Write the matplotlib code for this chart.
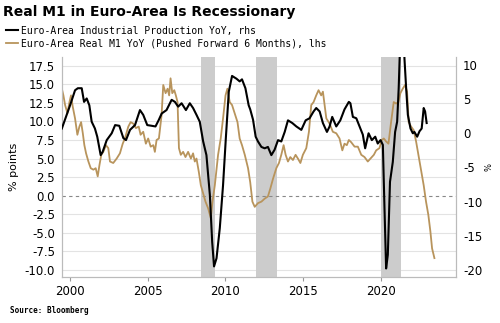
import matplotlib
matplotlib.use("Agg")
import matplotlib.pyplot as plt

# Euro-area industrial production YoY (%), right axis
ip_t = [1999.47, 1999.75, 2000.0, 2000.32, 2000.5, 2000.75, 2000.9, 2001.07, 2001.24, 2001.39,
        2001.6, 2001.75, 2001.97, 2002.1, 2002.36, 2002.68, 2002.9, 2003.17, 2003.43, 2003.6,
        2003.86, 2004.18, 2004.5, 2004.71, 2004.97, 2005.25, 2005.5, 2005.7, 2005.9, 2006.21,
        2006.54, 2006.75, 2006.96, 2007.18, 2007.46, 2007.71, 2007.92, 2008.14, 2008.35, 2008.57,
        2008.78, 2009.0, 2009.15, 2009.27, 2009.43, 2009.64, 2009.85, 2010.03, 2010.22, 2010.43,
        2010.71, 2010.92, 2011.07, 2011.29, 2011.5, 2011.6, 2011.78, 2011.95, 2012.1, 2012.32,
        2012.53, 2012.74, 2012.96, 2013.17, 2013.39, 2013.6, 2013.82, 2014.03, 2014.31, 2014.57,
        2014.89, 2015.17, 2015.42, 2015.68, 2015.85, 2016.07, 2016.28, 2016.54, 2016.71, 2016.88,
        2017.14, 2017.4, 2017.67, 2017.95, 2018.05, 2018.21, 2018.43, 2018.64, 2018.85, 2019.0,
        2019.22, 2019.43, 2019.65, 2019.81, 2019.99, 2020.14, 2020.24, 2020.35, 2020.46, 2020.6,
        2020.78, 2020.93, 2021.06, 2021.16, 2021.25, 2021.35, 2021.45, 2021.53, 2021.64, 2021.75,
        2021.92, 2022.07, 2022.17, 2022.35, 2022.5, 2022.64, 2022.77, 2022.86, 2022.96]
ip_v = [0.7, 2.5, 4.1, 6.3, 6.6, 6.6, 4.6, 5.1, 4.1, 1.7,
        0.7, -0.5, -3.2, -2.7, -1.0, 0.0, 1.2, 1.1, -0.7, -1.0,
        0.5, 1.2, 3.4, 2.7, 1.2, 1.1, 1.0, 1.9, 2.9, 3.4,
        4.9, 4.6, 3.9, 4.4, 3.4, 4.4, 3.7, 2.7, 1.7, -1.2,
        -3.2, -9.0, -15.9, -19.5, -18.3, -13.9, -7.6, -0.7, 6.1, 8.4,
        8.0, 7.6, 7.9, 6.6, 4.1, 3.5, 2.0, -0.5, -1.2, -2.0,
        -2.2, -2.0, -3.2, -2.4, -1.0, -1.2, 0.2, 1.9, 1.5, 1.0,
        0.5, 1.9, 2.2, 3.2, 3.7, 3.2, 1.5, 0.2, 1.0, 2.4,
        1.0, 1.9, 3.5, 4.6, 4.4, 2.4, 2.2, 1.0, -0.2, -2.2,
        0.0, -1.0, -0.5, -1.5, -1.0, -1.7, -10.5, -19.8, -17.8, -7.1,
        -4.2, 0.2, 1.7, 6.6, 13.0, 35.0, 25.0, 11.0, 6.6, 2.7,
        0.7, 0.0, 0.2, -0.5, 0.3, 0.7, 3.7, 3.2, 1.5]

# Euro-area real M1 YoY (%), pushed forward 6 months, left axis
m1_t = [1999.47, 1999.57, 1999.68, 1999.83, 1999.96, 2000.06, 2000.17, 2000.32, 2000.47, 2000.6,
        2000.71, 2000.82, 2000.92, 2001.03, 2001.18, 2001.33, 2001.5, 2001.65, 2001.78, 2001.89,
        2002.01, 2002.14, 2002.31, 2002.46, 2002.57, 2002.78, 2003.0, 2003.21, 2003.39, 2003.53,
        2003.75, 2003.9, 2004.07, 2004.24, 2004.42, 2004.54, 2004.71, 2004.88, 2005.03, 2005.19,
        2005.36, 2005.46, 2005.57, 2005.72, 2005.89, 2006.0, 2006.15, 2006.28, 2006.38, 2006.47,
        2006.58, 2006.71, 2006.81, 2006.92, 2007.01, 2007.13, 2007.28, 2007.43, 2007.6, 2007.78,
        2007.92, 2008.03, 2008.14, 2008.29, 2008.42, 2008.57, 2008.72, 2008.89, 2009.06, 2009.17,
        2009.32, 2009.53, 2009.7, 2009.85, 2010.01, 2010.13, 2010.28, 2010.43, 2010.6, 2010.78,
        2010.92, 2011.07, 2011.25, 2011.46, 2011.6, 2011.74, 2011.89, 2012.1, 2012.32, 2012.53,
        2012.74, 2012.9, 2013.07, 2013.28, 2013.45, 2013.6, 2013.75, 2013.88, 2014.03, 2014.18,
        2014.35, 2014.52, 2014.67, 2014.83, 2014.99, 2015.21, 2015.38, 2015.53, 2015.68, 2015.85,
        2016.0, 2016.17, 2016.28, 2016.39, 2016.5, 2016.71, 2016.92, 2017.14, 2017.35, 2017.53,
        2017.67, 2017.82, 2017.95, 2018.1, 2018.32, 2018.53, 2018.75, 2018.96, 2019.17, 2019.34,
        2019.56, 2019.71, 2019.92, 2020.07, 2020.2, 2020.35, 2020.5, 2020.67, 2020.84, 2020.99,
        2021.14, 2021.27, 2021.42, 2021.57, 2021.7, 2021.8, 2021.96, 2022.13, 2022.28, 2022.43,
        2022.6, 2022.77, 2022.92, 2023.07, 2023.2, 2023.31, 2023.46]
m1_v = [14.4, 13.5, 12.2, 11.1, 12.6, 13.5, 12.0, 10.4, 8.2, 9.3,
        9.9, 8.4, 6.8, 5.7, 4.6, 3.7, 3.5, 3.7, 2.6, 4.1,
        5.5, 5.9, 6.8, 6.4, 4.6, 4.4, 5.0, 5.7, 7.0, 7.7,
        9.3, 9.9, 9.7, 9.1, 9.3, 8.2, 8.6, 7.0, 7.7, 6.6,
        6.8, 5.9, 7.5, 7.7, 10.8, 14.9, 13.8, 14.4, 13.5, 15.8,
        13.8, 14.2, 13.5, 12.6, 6.4, 5.5, 5.9, 5.2, 5.9, 5.0,
        5.7, 4.6, 5.0, 3.2, 1.4, 0.3, -0.8, -1.7, -3.0, -0.8,
        1.4, 5.5, 7.7, 10.4, 13.5, 14.4, 12.6, 12.2, 11.1, 9.9,
        7.7, 6.8, 5.5, 3.7, 1.8, -0.8, -1.5, -1.0, -0.8, -0.4,
        -0.1, 1.0, 2.3, 3.7, 4.4, 5.5, 6.8, 5.5, 4.6, 5.2,
        4.8, 5.5, 5.0, 4.4, 5.5, 6.4, 8.6, 12.2, 12.6, 13.5,
        14.2, 13.5, 14.0, 12.2, 10.4, 9.7, 8.6, 8.4, 7.7, 6.1,
        7.0, 6.8, 7.5, 7.2, 6.6, 6.6, 5.5, 5.2, 4.6, 5.0,
        5.5, 6.1, 6.4, 7.5, 7.7, 7.3, 7.0, 9.9, 12.6, 12.4,
        12.6, 13.8, 14.4, 14.9, 14.0, 9.9, 9.3, 8.8, 7.3, 5.5,
        3.5, 1.4, -0.8, -2.6, -4.8, -7.1, -8.4]

# recession periods (shaded)
recessions = [(2008.45, 2009.33), (2012.0, 2013.3), (2020.0, 2021.3)]

left_ticks = [-10.0, -7.5, -5.0, -2.5, 0.0, 2.5, 5.0, 7.5, 10.0, 12.5, 15.0, 17.5]
right_ticks = [-20, -15, -10, -5, 0, 5, 10]
year_ticks = [2000, 2005, 2010, 2015, 2020]

plt.rcParams['font.family'] = 'DejaVu Sans'

fig = plt.figure(figsize=(5.0, 3.23), dpi=100)
ax = fig.add_axes([0.124, 0.1434, 0.788, 0.6786])
ax2 = ax.twinx()

for start, end in recessions:
    ax.axvspan(start, end, color='#cccccc', lw=0, zorder=1)

for t in left_ticks:
    if t == 0:
        ax.axhline(t, color='#888888', lw=0.8, ls=(0, (3, 3)), zorder=2)
    else:
        ax.axhline(t, color='#e3e3e3', lw=0.8, zorder=0.5)

m1_line, = ax.plot(m1_t, m1_v, color='#b8945c', lw=1.3, zorder=3,
                   label='Euro-Area Real M1 YoY (Pushed Forward 6 Months), lhs')
ip_line, = ax2.plot(ip_t, ip_v, color='black', lw=1.5, zorder=3,
                    label='Euro-Area Industrial Production YoY, rhs')

ax.set_xlim(1999.48, 2024.85)
ax.set_ylim(-10.9, 18.6)
ax2.set_ylim(-21.0, 11.1)

ax.set_xticks(year_ticks)
ax.set_xticklabels([str(y) for y in year_ticks])
ax.set_yticks(left_ticks)
ax.set_yticklabels([f'{t:.1f}' for t in left_ticks])
ax2.set_yticks(right_ticks)
ax2.set_yticklabels([str(t) for t in right_ticks])

ax.tick_params(axis='x', length=3, width=0.8, color='#999999', labelsize=8.5, pad=3)
ax.tick_params(axis='y', length=0, labelsize=8.5, pad=5)
ax2.tick_params(axis='y', length=0, labelsize=8.5, pad=5)

for a in (ax, ax2):
    a.spines['top'].set_visible(False)
    for side in ('left', 'right', 'bottom'):
        a.spines[side].set_color('#bbbbbb')
        a.spines[side].set_linewidth(0.8)

ax.set_ylabel('% points', fontsize=8, labelpad=4)
ax2.set_ylabel('%', fontsize=6, labelpad=2)

fig.text(0.006, 0.985, 'Real M1 in Euro-Area Is Recessionary', fontsize=10,
         fontweight='bold', va='top', ha='left')
fig.legend(handles=[ip_line, m1_line], loc='upper left', bbox_to_anchor=(0.012, 0.92),
           frameon=False, prop={'family': 'DejaVu Sans Mono', 'size': 7},
           handlelength=1.2, handletextpad=0.3, labelspacing=0.3, borderpad=0,
           borderaxespad=0)
fig.text(0.02, 0.04, 'Source: Bloomberg', fontsize=5.5, fontweight='bold',
         family='DejaVu Sans Mono', va='center', ha='left')

fig.savefig('out.png', dpi=100)
